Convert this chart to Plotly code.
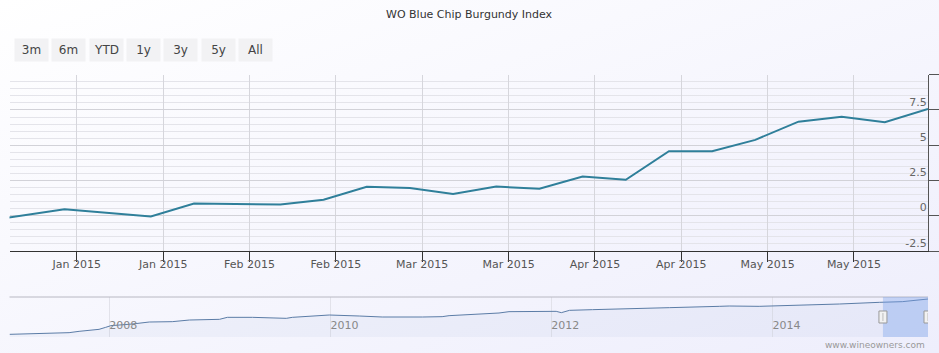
import base64
import plotly.graph_objects as go

# ---------------- data ----------------
title_text = "WO Blue Chip Burgundy Index"
button_labels = ["3m", "6m", "YTD", "1y", "3y", "5y", "All"]
watermark_text = "www.wineowners.com"

index_dates = ["2014-12-27", "2015-01-10", "2015-01-24", "2015-01-31", "2015-02-14",
               "2015-02-21", "2015-02-28", "2015-03-07", "2015-03-14", "2015-03-21",
               "2015-03-28", "2015-04-04", "2015-04-11", "2015-04-18", "2015-04-25",
               "2015-05-02", "2015-05-09", "2015-05-16", "2015-05-23", "2015-05-30"]
index_values = [-0.44, 0.46, -0.05, 0.87, 0.80,
                1.13, 2.05, 1.96, 1.54, 2.07,
                1.91, 2.78, 2.55, 4.58, 4.58,
                5.38, 6.67, 7.01, 6.63, 7.57]

x_tick_dates = ["2015-01-12", "2015-01-26", "2015-02-09", "2015-02-23", "2015-03-09",
                "2015-03-23", "2015-04-06", "2015-04-20", "2015-05-04", "2015-05-18"]
x_tick_labels = ["Jan 2015", "Jan 2015", "Feb 2015", "Feb 2015", "Mar 2015",
                 "Mar 2015", "Apr 2015", "Apr 2015", "May 2015", "May 2015"]
y_tick_values = [-2.5, 0, 2.5, 5, 7.5, 10]
y_tick_labels = ["-2.5", "0", "2.5", "5", "7.5", ""]

nav_dates = ["2007-02-05", "2007-05-14", "2007-08-21", "2007-09-23", "2007-11-28",
             "2007-12-20", "2008-01-06", "2008-03-17", "2008-05-12", "2008-07-27",
             "2008-09-22", "2008-12-30", "2009-01-25", "2009-04-18", "2009-07-06",
             "2009-08-08", "2009-08-28", "2009-10-23", "2009-11-25", "2009-12-28",
             "2010-04-06", "2010-06-21", "2010-11-01", "2011-01-05", "2011-01-28",
             "2011-04-27", "2011-07-12", "2011-08-14", "2011-12-02", "2012-01-17",
             "2012-02-03", "2012-03-01", "2012-05-16", "2012-09-15", "2013-01-25",
             "2013-07-09", "2013-08-11", "2013-11-18", "2014-02-26", "2014-06-05",
             "2014-08-10", "2014-12-20", "2015-03-06", "2015-05-30"]
nav_values = [96, 100, 106, 114, 126,
              138, 148, 158, 170, 172,
              182, 186, 198, 198, 196,
              192, 198, 206, 210, 212,
              206, 200, 200, 202, 208,
              216, 224, 232, 236, 234,
              226, 240, 244, 248, 256,
              264, 266, 264, 268, 272,
              278, 288, 292, 308]
nav_tick_dates = ["2008-01-01", "2010-01-01", "2012-01-01", "2014-01-01"]
nav_tick_labels = ["2008", "2010", "2012", "2014"]

main_range = ["2015-01-01 02:00", "2015-05-30"]
nav_range = ["2007-02-05", "2015-05-30"]

# ---------------- layout helpers ----------------
W, H = 939, 353
FONT = "DejaVu Sans"


def px(x):
    return x / W


def py(y):
    return 1 - y / H


x_dom = [px(9.5), px(928)]

svg = ('<svg xmlns="http://www.w3.org/2000/svg" width="939" height="353" '
       'preserveAspectRatio="none"><defs><linearGradient id="g" x1="0" y1="0" '
       'x2="1" y2="1"><stop offset="0" stop-color="rgb(255,255,255)"/>'
       '<stop offset="1" stop-color="rgb(238,238,252)"/></linearGradient></defs>'
       '<rect width="939" height="353" fill="url(#g)"/></svg>')
bg_src = "data:image/svg+xml;base64," + base64.b64encode(svg.encode()).decode()

fig = go.Figure()

fig.add_trace(go.Scatter(
    x=index_dates, y=index_values, mode="lines",
    line=dict(color="#2f7f9a", width=2),
    xaxis="x", yaxis="y", showlegend=False, hoverinfo="x+y"))

fig.add_trace(go.Scatter(
    x=nav_dates, y=nav_values, mode="lines", fill="tozeroy",
    fillcolor="rgba(69,114,167,0.05)",
    line=dict(color="#5b7ca6", width=1),
    xaxis="x2", yaxis="y2", showlegend=False, hoverinfo="skip"))

annotations = [
    dict(text=title_text, x=px(469), y=py(15), xref="paper", yref="paper",
         showarrow=False, font=dict(family=FONT, size=11, color="#333333"),
         xanchor="center", yanchor="middle"),
    dict(text=watermark_text, x=px(927), y=py(345), xref="paper", yref="paper",
         showarrow=False, font=dict(family=FONT, size=9, color="#999999"),
         xanchor="right", yanchor="middle"),
]
for i, lab in enumerate(button_labels):
    annotations.append(dict(
        text=lab, x=px(31.5 + i * 37.3), y=py(50), xref="paper", yref="paper",
        showarrow=False, width=33, height=22, borderpad=0,
        bgcolor="#f2f2f4", font=dict(family=FONT, size=12, color="#444444"),
        xanchor="center", yanchor="middle"))

shapes = [
    # navigator top outline
    dict(type="line", xref="paper", yref="paper", x0=x_dom[0], x1=x_dom[1],
         y0=py(297), y1=py(297), line=dict(color="#b8b8c2", width=1)),
    # selected range mask
    dict(type="rect", xref="x2", yref="y2 domain", x0=main_range[0], x1=main_range[1],
         y0=0, y1=1, fillcolor="rgba(120,160,235,0.38)", line=dict(width=0), layer="above"),
]
for xa in main_range:
    shapes.append(dict(type="rect", xref="x2", yref="y2 domain", xsizemode="pixel",
                       ysizemode="pixel", xanchor=xa, yanchor=0.5, x0=-4, x1=4, y0=-6, y1=6,
                       fillcolor="#f2f2f2", line=dict(color="#999999", width=1), layer="above"))
    shapes.append(dict(type="line", xref="x2", yref="y2 domain", xsizemode="pixel",
                       ysizemode="pixel", xanchor=xa, yanchor=0.5, x0=0, x1=0, y0=-4, y1=4,
                       line=dict(color="#bbbbbb", width=1), layer="above"))

fig.update_layout(
    width=W, height=H, autosize=False,
    margin=dict(l=0, r=0, t=0, b=0),
    paper_bgcolor="white", plot_bgcolor="rgba(0,0,0,0)",
    font=dict(family=FONT, size=11, color="#666666"),
    images=[dict(source=bg_src, xref="paper", yref="paper", x=0, y=1, sizex=1, sizey=1,
                 sizing="stretch", xanchor="left", yanchor="top", layer="below")],
    xaxis=dict(
        domain=x_dom, anchor="y", type="date", range=main_range,
        tickmode="array", tickvals=x_tick_dates, ticktext=x_tick_labels,
        showgrid=True, gridcolor="#d6d6dc", gridwidth=1,
        showline=True, linecolor="#333333", linewidth=1,
        ticks="outside", ticklen=10, tickcolor="#333333", tickwidth=1,
        ticklabelstandoff=-7,
        tickfont=dict(family=FONT, size=11, color="#555555"),
        zeroline=False, fixedrange=True),
    yaxis=dict(
        domain=[py(251), py(74.7)], anchor="x", side="right", range=[-2.5, 10],
        tickmode="array", tickvals=y_tick_values, ticktext=y_tick_labels,
        ticklabelposition="inside top",
        showgrid=True, gridcolor="#d2d2d8", gridwidth=1,
        minor=dict(dtick=0.5, tick0=0, showgrid=True, gridcolor="#e4e4ea", gridwidth=1, ticks=""),
        showline=True, linecolor="#555555", linewidth=1,
        ticks="outside", ticklen=10, tickcolor="#555555",
        tickfont=dict(family=FONT, size=11, color="#666666"),
        zeroline=False, fixedrange=True),
    xaxis2=dict(
        domain=x_dom, anchor="y2", type="date", range=nav_range,
        tickmode="array", tickvals=nav_tick_dates, ticktext=nav_tick_labels,
        ticklabelposition="inside right",
        showgrid=True, gridcolor="#e2e2ea", showline=False, ticks="",
        tickfont=dict(family=FONT, size=11, color="#888888"),
        zeroline=False, fixedrange=True),
    yaxis2=dict(
        domain=[py(337), py(297)], anchor="x2", range=[80, 320],
        showgrid=False, showticklabels=False, showline=False, ticks="",
        zeroline=False, fixedrange=True),
    annotations=annotations,
    shapes=shapes,
)

fig.write_html("out.html")
